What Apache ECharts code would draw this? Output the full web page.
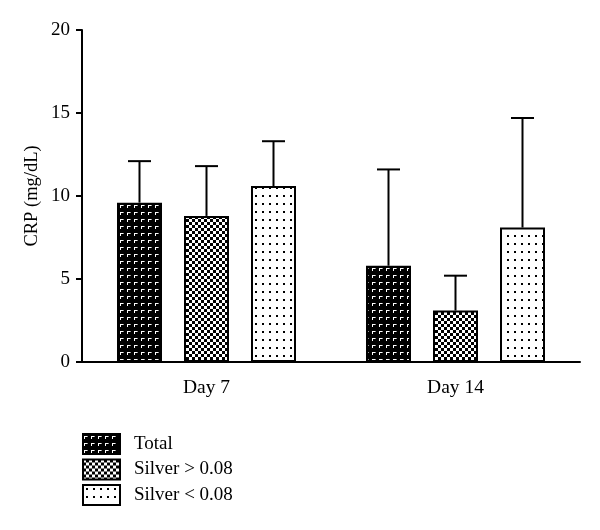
<!DOCTYPE html>
<html><head><meta charset="utf-8">
<script src="https://cdn.jsdelivr.net/npm/echarts@6/dist/echarts.min.js"></script>
<style>html,body{margin:0;padding:0;background:#fff}#c{width:600px;height:530px}</style>
</head><body><div id="c"></div>
<script>
const categories = ['Day 7', 'Day 14'];
const seriesNames = ['Total', 'Silver > 0.08', 'Silver < 0.08'];
const totalMean = [9.6, 5.8];
const totalUpper = [12.1, 11.6];
const silverHighMean = [8.8, 3.1];
const silverHighUpper = [11.8, 5.2];
const silverLowMean = [10.6, 8.1];
const silverLowUpper = [13.3, 14.7];
const yTicks = [0, 5, 10, 15, 20];

function makePattern(kind) {
  const c = document.createElement('canvas');
  const ctx = c.getContext('2d');
  if (kind === 'total') {
    c.width = 7; c.height = 7;
    ctx.fillStyle = '#000'; ctx.fillRect(0, 0, 7, 7);
    ctx.fillStyle = '#fff';
    ctx.fillRect(1, 2, 3, 1);
    ctx.fillRect(1, 2, 1, 3);
    ctx.fillStyle = '#999';
    ctx.fillRect(4, 2, 1, 1);
  } else if (kind === 'check') {
    c.width = 6; c.height = 6;
    ctx.fillStyle = '#000'; ctx.fillRect(0, 0, 6, 6);
    ctx.fillStyle = '#fff';
    ctx.fillRect(0, 0, 3, 3);
    ctx.fillRect(3, 3, 3, 3);
  } else {
    c.width = 7; c.height = 8;
    ctx.fillStyle = '#fff'; ctx.fillRect(0, 0, 7, 8);
    ctx.fillStyle = '#000';
    ctx.fillRect(3, 3, 2, 2);
  }
  return { image: c, repeat: 'repeat' };
}

const means = [totalMean, silverHighMean, silverLowMean];
const uppers = [totalUpper, silverHighUpper, silverLowUpper];
const patterns = [makePattern('total'), makePattern('check'), makePattern('dots')];

const BAR_W = 45;
const BAR_GAP = 22;
const FONT = '"Liberation Serif", "DejaVu Serif", serif';

const series = [];
seriesNames.forEach((name, i) => {
  series.push({
    name: name,
    type: 'bar',
    barWidth: BAR_W,
    barGap: (BAR_GAP / BAR_W * 100) + '%',
    data: means[i],
    itemStyle: { color: patterns[i], borderColor: '#000', borderWidth: 2 },
    z: 3
  });
});
seriesNames.forEach((name, i) => {
  series.push({
    type: 'custom',
    name: name + ' err',
    data: categories.map((c, k) => [k, means[i][k], uppers[i][k]]),
    z: 2,
    silent: true,
    renderItem: function (params, api) {
      const k = api.value(0);
      const off = (i - 1) * (BAR_W + BAR_GAP);
      const p0 = api.coord([k, api.value(1)]);
      const p1 = api.coord([k, api.value(2)]);
      const x = p0[0] + off;
      const style = { stroke: '#000', lineWidth: 2, fill: null };
      return {
        type: 'group',
        children: [
          { type: 'line', shape: { x1: x, y1: p0[1], x2: x, y2: p1[1] }, style: style },
          { type: 'line', shape: { x1: x - 11.5, y1: p1[1], x2: x + 11.5, y2: p1[1] }, style: style }
        ]
      };
    }
  });
});

const chart = echarts.init(document.getElementById('c'), null, { renderer: 'canvas' });
chart.setOption({
  animation: false,
  backgroundColor: '#fff',
  grid: { left: 82, right: 20, top: 30, bottom: 168 },
  legend: {
    data: seriesNames,
    icon: 'rect',
    orient: 'vertical',
    left: 82,
    top: 433,
    itemWidth: 37,
    itemHeight: 20,
    itemGap: 3.5,
    textStyle: { fontFamily: FONT, fontSize: 19, lineHeight: 20, color: '#000', padding: [0, 0, 0, 9] },
    padding: 0
  },
  xAxis: {
    type: 'category',
    data: categories,
    axisLine: { lineStyle: { color: '#000', width: 2 } },
    axisTick: { alignWithLabel: true, length: 6, lineStyle: { color: '#000', width: 2 } },
    axisLabel: { color: '#000', fontFamily: FONT, fontSize: 19.5, margin: 16 },
    splitLine: { show: false }
  },
  yAxis: {
    type: 'value',
    min: yTicks[0],
    max: yTicks[yTicks.length - 1],
    interval: 5,
    name: 'CRP (mg/dL)',
    nameLocation: 'middle',
    nameGap: 40,
    nameMoveOverlap: false,
    nameTextStyle: { color: '#000', fontFamily: FONT, fontSize: 18.5 },
    axisLine: { show: true, lineStyle: { color: '#000', width: 2 } },
    axisTick: { show: true, length: 6, lineStyle: { color: '#000', width: 2 } },
    axisLabel: { color: '#000', fontFamily: FONT, fontSize: 19, margin: 12 },
    splitLine: { show: false }
  },
  series: series
});
</script>
</body></html>
